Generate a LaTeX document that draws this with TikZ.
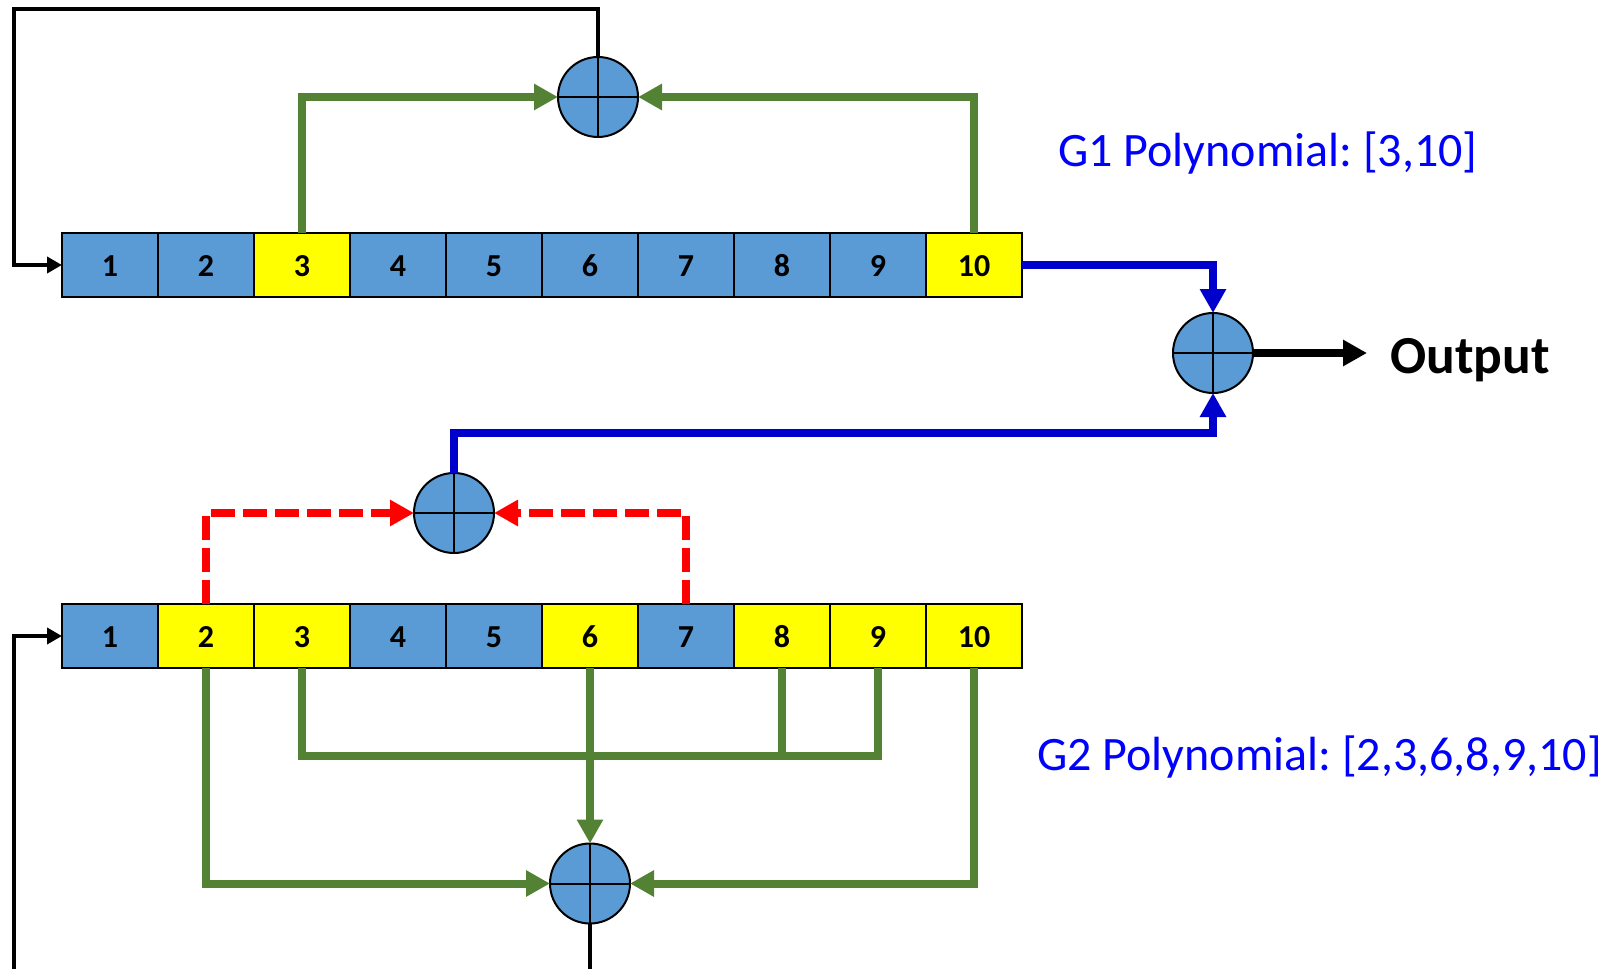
\documentclass[tikz,border=0pt]{standalone}
\usepackage{fontspec}
\setmainfont{Carlito}
\frenchspacing
\usetikzlibrary{arrows.meta}
\definecolor{cellblue}{HTML}{5B9BD5}
\definecolor{celly}{HTML}{FFFF00}
\definecolor{wiregreen}{HTML}{548235}
\definecolor{wireblue}{HTML}{0000CC}
\definecolor{labelblue}{HTML}{0000FF}
\definecolor{wirered}{HTML}{FF0000}
\tikzset{
  cellbase/.style={draw=black,line width=2pt,minimum width=96pt,minimum height=64pt,inner sep=0pt,outer sep=0pt,
    text height=23pt,text depth=0pt,
    font=\fontsize{32}{34}\selectfont\bfseries,text=black},
  plaincell/.style={cellbase,fill=cellblue},
  tapcell/.style={cellbase,fill=celly},
  xorgate/.style={circle,draw=black,line width=2pt,fill=cellblue,minimum size=80pt,inner sep=0pt,outer sep=0pt,
    path picture={
      \draw[black,line width=2pt] (path picture bounding box.north)--(path picture bounding box.south);
      \draw[black,line width=2pt] (path picture bounding box.west)--(path picture bounding box.east);
    }},
  bigtip/.style={-{Triangle[length=24pt,width=25pt]}},
  greenwire/.style={draw=wiregreen,line width=8pt},
  bluewire/.style={draw=wireblue,line width=8pt},
  redwire/.style={draw=wirered,line width=8pt,dash pattern=on 24pt off 8pt},
  feedback/.style={draw=black,line width=4pt},
  feedtip/.style={-{Triangle[length=15pt,width=16pt]}},
  polylabel/.style={text=labelblue,anchor=base west,inner sep=0pt,font=\fontsize{48}{52}\selectfont},
}
\begin{document}
\begin{tikzpicture}[x=1pt,y=-1pt]
\useasboundingbox (0,0) rectangle (1603,969);
% upper register
\foreach \i/\s in {1/plaincell,2/plaincell,3/tapcell,4/plaincell,5/plaincell,6/plaincell,7/plaincell,8/plaincell,9/plaincell,10/tapcell}
  \node[\s] (a\i) at ({62+96*(\i-0.5)},265) {\i};
% lower register
\foreach \i/\s in {1/plaincell,2/tapcell,3/tapcell,4/plaincell,5/plaincell,6/tapcell,7/plaincell,8/tapcell,9/tapcell,10/tapcell}
  \node[\s] (b\i) at ({62+96*(\i-0.5)},636) {\i};
% xor gates
\node[xorgate] (c1) at (598,97) {};
\node[xorgate] (c2) at (454,513) {};
\node[xorgate] (c3) at (590,883.5) {};
\node[xorgate] (out) at (1213,353) {};
% helper points
\coordinate (fbtop) at (14,9);
\coordinate (fbbot) at (14,969);
\coordinate (c3end) at (590,969);
\coordinate (join) at (1213,433);
\coordinate (bus) at (590,756);
\coordinate (outend) at (1367,353);
% feedback
\draw[feedback,feedtip] (c1.north) |- (fbtop) |- (a1.west);
\draw[feedback,feedtip] (fbbot) |- (b1.west);
\draw[feedback] (c3.south) -- (c3end);
% upper taps
\draw[greenwire,bigtip] (a3.north) |- (c1.west);
\draw[greenwire,bigtip] (a10.north) |- (c1.east);
% outputs
\draw[bluewire,bigtip] (a10.east) -| (out.north);
\draw[bluewire,bigtip] (c2.north) |- (join) -- (out.south);
\draw[draw=black,line width=8pt,bigtip] (out.east) -- (outend);
% red taps
\draw[redwire,bigtip] (b2.north) |- (c2.west);
\draw[redwire,bigtip] (b7.north) |- (c2.east);
% lower taps
\draw[greenwire,bigtip] (b2.south) |- (c3.west);
\draw[greenwire,bigtip] (b10.south) |- (c3.east);
\draw[greenwire,bigtip] (b6.south) -- (c3.north);
\draw[greenwire] (b3.south) |- (bus) -| (b9.south);
\draw[greenwire] (b8.south) -- (b8.south |- bus);
% labels
\node[polylabel] (g1) at (1058,166) {G1 Polynomial: [3,10]};
\node[polylabel] (g2) at (1037,770) {G2 Polynomial: [2,3,6,8,9,10]};
\node[anchor=base west,inner sep=0pt,font=\fontsize{53.5}{58}\selectfont\bfseries] (outlabel) at (1390,373) {Output};
\end{tikzpicture}
\end{document}
